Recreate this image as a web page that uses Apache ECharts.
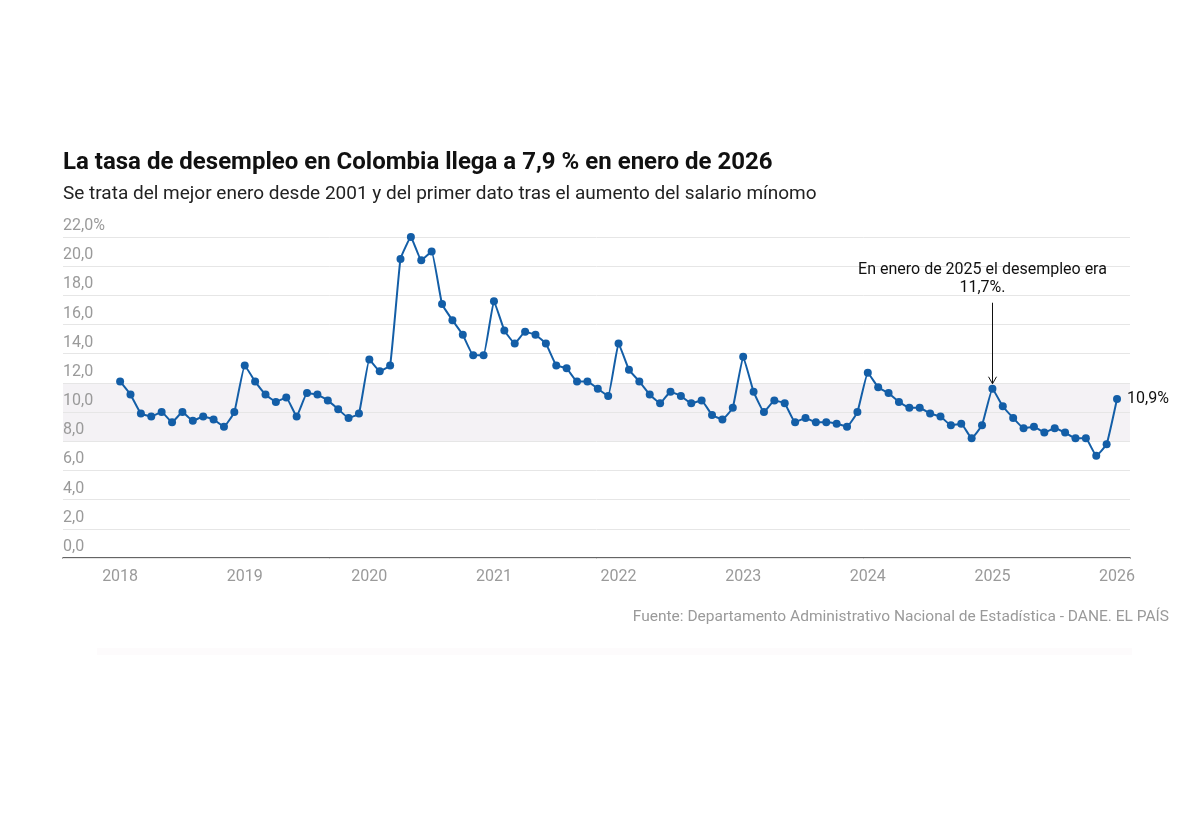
<!DOCTYPE html>
<html>
<head>
<meta charset="utf-8">
<script src="https://cdn.jsdelivr.net/npm/echarts@6/dist/echarts.min.js"></script>
<style>
html,body{margin:0;padding:0;background:#fff;}
#chart{width:1200px;height:828px;}
</style>
</head>
<body>
<div id="chart"></div>
<script>
// Tasa de desempleo mensual (%), enero 2018 - enero 2026
const firstYear = 2018;
const rates2018 = [12.1, 11.2, 9.9, 9.7, 10.0, 9.3, 10.0, 9.4, 9.7, 9.5, 9.0, 10.0];
const rates2019 = [13.2, 12.1, 11.2, 10.7, 11.0, 9.7, 11.3, 11.2, 10.8, 10.2, 9.6, 9.9];
const rates2020 = [13.6, 12.8, 13.2, 20.5, 22.0, 20.4, 21.0, 17.4, 16.3, 15.3, 13.9, 13.9];
const rates2021 = [17.6, 15.6, 14.7, 15.5, 15.3, 14.7, 13.2, 13.0, 12.1, 12.1, 11.6, 11.1];
const rates2022 = [14.7, 12.9, 12.1, 11.2, 10.6, 11.4, 11.1, 10.6, 10.8, 9.8, 9.5, 10.3];
const rates2023 = [13.8, 11.4, 10.0, 10.8, 10.6, 9.3, 9.6, 9.3, 9.3, 9.2, 9.0, 10.0];
const rates2024 = [12.7, 11.7, 11.3, 10.7, 10.3, 10.3, 9.9, 9.7, 9.1, 9.2, 8.2, 9.1];
const rates2025 = [11.6, 10.4, 9.6, 8.9, 9.0, 8.6, 8.9, 8.6, 8.2, 8.2, 7.0, 7.8];
const rates2026 = [10.9];
const yearTicks = [2018, 2019, 2020, 2021, 2022, 2023, 2024, 2025, 2026];
const yTicks = [0, 2, 4, 6, 8, 10, 12, 14, 16, 18, 20, 22];
const bandLow = 8, bandHigh = 12;
const annotationIndex = 84; // enero 2025
const annotationLines = ['En enero de 2025 el desempleo era', '11,7%.'];

const allRates = [].concat(rates2018, rates2019, rates2020, rates2021, rates2022, rates2023, rates2024, rates2025, rates2026);
const seriesData = allRates.map((v, i) => [i, v]);
const tickIdx = yearTicks.map(y => (y - firstYear) * 12);

const fmt = v => v.toFixed(1).replace('.', ',');
const chart = echarts.init(document.getElementById('chart'));
const grey = '#9a9a9a';
const blue = '#135ea7';

chart.setOption({
  backgroundColor: '#fff',
  animation: false,
  textStyle: { fontFamily: 'Roboto, "Noto Sans", sans-serif' },
  title: [
    { text: 'La tasa de desempleo en Colombia llega a 7,9 % en enero de 2026', left: 58, top: 146,
      textStyle: { fontSize: 24, fontWeight: 'bold', color: '#111', fontFamily: 'Roboto' } },
    { text: 'Se trata del mejor enero desde 2001 y del primer dato tras el aumento del salario mínomo', left: 58, top: 180,
      textStyle: { fontSize: 19, fontWeight: 'normal', color: '#222', fontFamily: 'Roboto' } },
    { text: 'Fuente: Departamento Administrativo Nacional de Estadística - DANE. EL PAÍS', right: 26, top: 604,
      textStyle: { fontSize: 15.5, fontWeight: 'normal', color: grey, fontFamily: 'Roboto' } }
  ],
  grid: { left: 63, right: 70, top: 237, bottom: 270, containLabel: false },
  xAxis: {
    type: 'value', min: -5.5, max: 97.25,
    axisLine: { show: true, lineStyle: { color: '#333', width: 1.5 } },
    axisTick: { show: false },
    splitLine: { show: false },
    axisLabel: { customValues: tickIdx, formatter: v => String(firstYear + Math.round(v / 12)),
      color: grey, fontSize: 16, margin: 11 }
  },
  yAxis: {
    type: 'value', min: 0, max: 22, interval: 2, z: 10,
    axisLine: { show: false }, axisTick: { show: false },
    splitLine: { lineStyle: { color: '#e6e6e6', width: 1 } },
    axisLabel: { inside: true, margin: 0, align: 'left', verticalAlign: 'bottom', padding: [0, 0, 3, 0],
      color: grey, fontSize: 16,
      formatter: v => v === 22 ? fmt(v) + '%' : fmt(v) }
  },
  series: [{
    type: 'line',
    data: seriesData,
    smooth: 0.1,
    symbol: 'circle', symbolSize: 8,
    lineStyle: { color: blue, width: 2 },
    itemStyle: { color: blue },
    endLabel: { show: true, formatter: p => fmt(p.value[1]) + '%', color: '#111', fontSize: 16, distance: 10 },
    markArea: {
      silent: true,
      itemStyle: { color: '#f4f2f5' },
      z: 1,
      data: [[{ yAxis: bandLow }, { yAxis: bandHigh }]]
    },
    z: 20
  }]
});

function addAnnotation() {
  const pt = chart.convertToPixel({ gridIndex: 0 }, [annotationIndex, allRates[annotationIndex]]);
  const x = Math.round(pt[0]) + 0.5;
  const tipY = pt[1] - 5;
  const topY = pt[1] - 86;
  chart.setOption({
    graphic: [
      { type: 'line', shape: { x1: x, y1: topY, x2: x, y2: tipY }, style: { stroke: '#111', lineWidth: 1 }, z: 30 },
      { type: 'polyline', shape: { points: [[x - 4, tipY - 7], [x, tipY], [x + 4, tipY - 7]] }, style: { stroke: '#111', fill: null, lineWidth: 1 }, z: 30 },
      { type: 'text', x: x - 10, y: topY - 41, style: { text: annotationLines[0], fill: '#111', fontSize: 16, fontFamily: 'Roboto', align: 'center', verticalAlign: 'top' }, z: 30 },
      { type: 'text', x: x - 10, y: topY - 23, style: { text: annotationLines[1], fill: '#111', fontSize: 16, fontFamily: 'Roboto', align: 'center', verticalAlign: 'top' }, z: 30 },
      { type: 'rect', shape: { x: 97, y: 648, width: 1035, height: 7 }, style: { fill: '#fdfbfc' }, z: 0 }
    ]
  });
}
addAnnotation();
</script>
</body>
</html>
